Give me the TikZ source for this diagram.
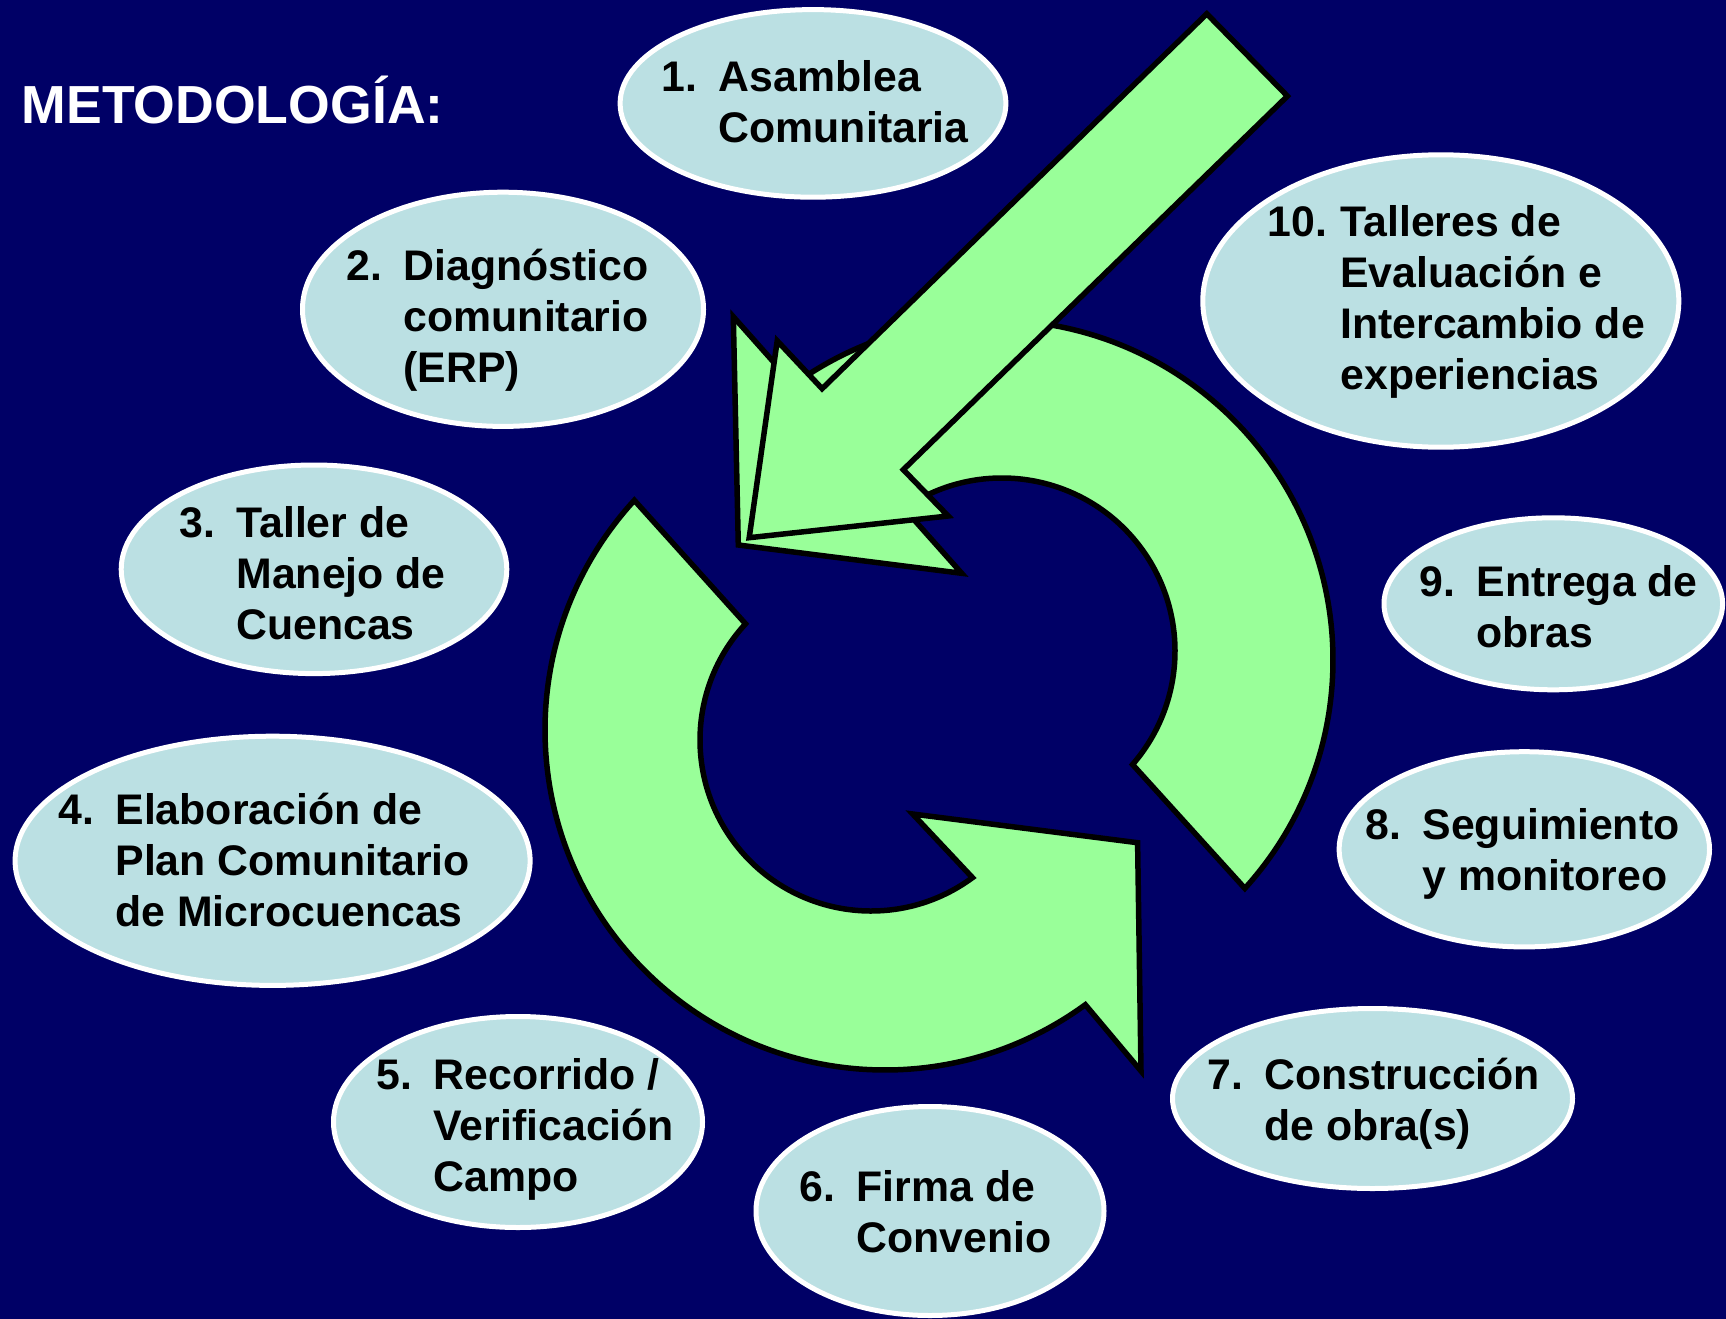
\documentclass[tikz,border=0pt]{standalone}
\usepackage{fontspec}
\setmainfont{Liberation Sans}
\usetikzlibrary{shapes.geometric,calc}

\definecolor{slidebg}{RGB}{0,0,102}
\definecolor{bubblefill}{RGB}{187,224,227}
\definecolor{arrowgreen}{RGB}{153,255,153}

% numbered label with hanging indent: #1 indent, #2 number, #3 lines
\newcommand{\stagelabel}[3]{\begin{tabular}[t]{@{}l@{}l@{}}\makebox[#1][l]{#2} & #3\end{tabular}}

\tikzset{
  bubble/.style={ellipse, draw=white, line width=5pt, fill=bubblefill, inner sep=0pt},
  stagetext/.style={anchor=base west, inner sep=0pt, text=black,
                    font=\fontsize{42.8}{51}\selectfont\bfseries},
  cyclearrow/.style={draw=black, fill=arrowgreen, line width=5.5pt, line join=miter},
}

\begin{document}
\begin{tikzpicture}[x=1pt,y=-1pt]
  \useasboundingbox (0,0) rectangle (1726,1319);
  \fill[slidebg] (0,0) rectangle (1726,1319);

  % left circular arrow (tail at upper left, head at lower right)
  \draw[cyclearrow]
    ($(885,730)+(222.5:340)$) arc[start angle=222.5, end angle=53.9, radius=340]
    -- (1141,1071) -- (1137.6,842.7) -- (912.7,814)
    -- ($(871,740)+(53.6:171)$) arc[start angle=53.6, end angle=222.8, radius=171]
    -- cycle;

  % right circular arrow (tail at lower right, head at upper left)
  \draw[cyclearrow]
    ($(993,660)+(42.2:340)$) arc[start angle=42.2, end angle=-125.9, radius=340]
    -- (733.3,316.7) -- (738.3,545) -- (961.7,573.3)
    -- ($(1002,651)+(-124.5:173)$) arc[start angle=-124.5, end angle=41, radius=173]
    -- cycle;

  % straight arrow entering the cycle
  \draw[cyclearrow]
    (1206.8,13.8) -- (1287.4,96.1) -- (903.3,469.7) -- (948.2,516)
    -- (749.2,537.7) -- (777.2,340.8) -- (822.1,388.7) -- cycle;

  % stage bubbles
  \node[bubble, minimum width=385.8pt, minimum height=187.6pt] (e1)  at (813,103.4)   {};
  \node[bubble, minimum width=401pt,   minimum height=234.2pt] (e2)  at (503,309.3)   {};
  \node[bubble, minimum width=385.6pt, minimum height=208.6pt] (e3)  at (314,569.3)   {};
  \node[bubble, minimum width=515pt,   minimum height=249.2pt] (e4)  at (272.6,860.8) {};
  \node[bubble, minimum width=369pt,   minimum height=211pt]   (e5)  at (518,1122)    {};
  \node[bubble, minimum width=348pt,   minimum height=209pt]   (e6)  at (930,1211)    {};
  \node[bubble, minimum width=400pt,   minimum height=180pt]   (e7)  at (1372.5,1098.5) {};
  \node[bubble, minimum width=370.4pt, minimum height=195.2pt] (e8)  at (1524.3,849.3) {};
  \node[bubble, minimum width=338.6pt, minimum height=172pt]   (e9)  at (1553.3,603.8) {};
  \node[bubble, minimum width=476pt,   minimum height=292.4pt] (e10) at (1440.8,301)   {};

  % stage labels
  \node[stagetext] (s1)  at (661.5,91.7)   {\stagelabel{57pt}{1.}{Asamblea\\ & Comunitaria}};
  \node[stagetext] (s2)  at (346.5,280.6)  {\stagelabel{57pt}{2.}{Diagnóstico\\ & comunitario\\ & (ERP)}};
  \node[stagetext] (s3)  at (179.2,537.6)  {\stagelabel{57pt}{3.}{Taller de\\ & Manejo de\\ & Cuencas}};
  \node[stagetext] (s4)  at (58.3,824.6)   {\stagelabel{57pt}{4.}{Elaboración de\\ & Plan Comunitario\\ & de Microcuencas}};
  \node[stagetext] (s5)  at (376.6,1089.5) {\stagelabel{57pt}{5.}{Recorrido /\\ & Verificación\\ & Campo}};
  \node[stagetext] (s6)  at (799.5,1201.7) {\stagelabel{57pt}{6.}{Firma de\\ & Convenio}};
  \node[stagetext] (s7)  at (1207,1089.3)  {\stagelabel{57pt}{7.}{Construcción\\ & de obra(s)}};
  \node[stagetext] (s8)  at (1365.4,839.2) {\stagelabel{57pt}{8.}{Seguimiento\\ & y monitoreo}};
  \node[stagetext] (s9)  at (1419.3,596.7) {\stagelabel{57pt}{9.}{Entrega de\\ & obras}};
  \node[stagetext] (s10) at (1267.2,236)   {\stagelabel{73pt}{10.}{Talleres de\\ & Evaluación e\\ & Intercambio de\\ & experiencias}};

  % heading
  \node[anchor=base west, inner sep=0pt, text=white,
        font=\fontsize{53.6}{60}\selectfont\bfseries] (title) at (21.5,124) {METODOLOGÍA:};
\end{tikzpicture}
\end{document}
